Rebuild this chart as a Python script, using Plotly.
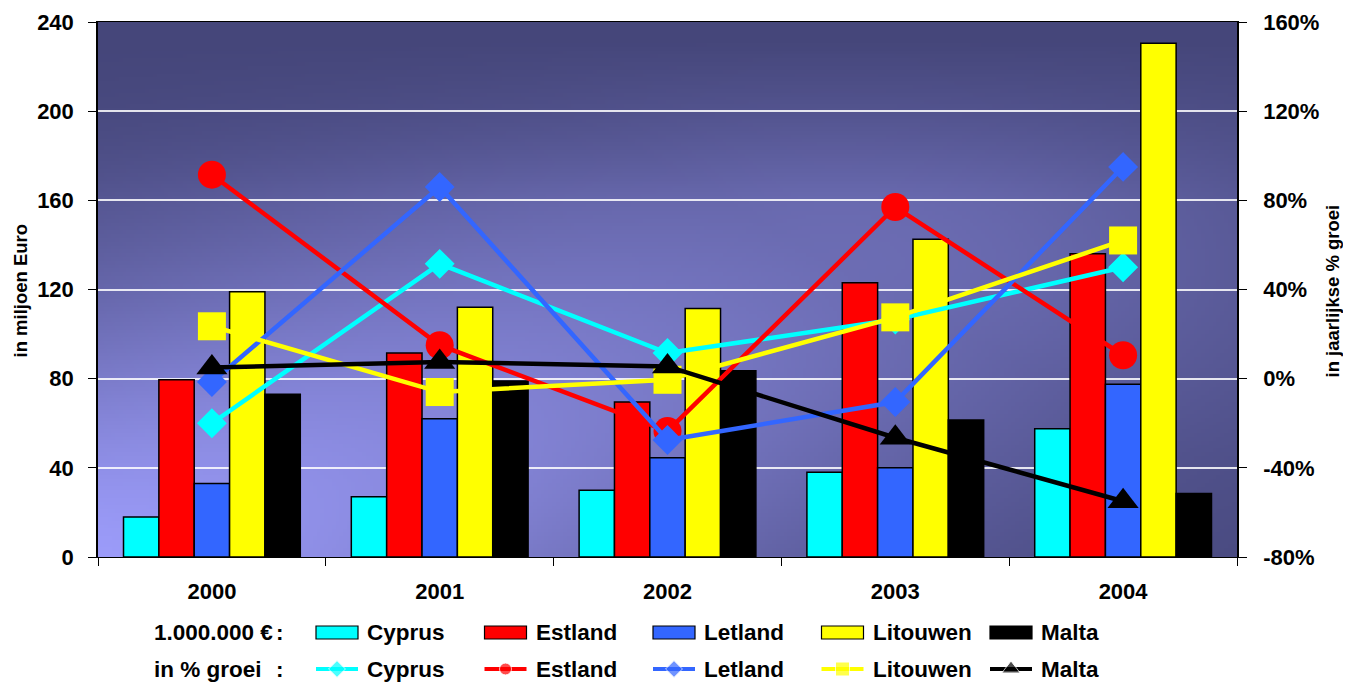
import base64
import struct
import zlib

import numpy as np
import plotly.graph_objects as go

# data
years = ["2000", "2001", "2002", "2003", "2004"]
countries = ["Cyprus", "Estland", "Letland", "Litouwen", "Malta"]
colors = ["#00FFFF", "#FF0000", "#3366FF", "#FFFF00", "#000000"]
symbols = ["diamond", "circle", "diamond", "square", "triangle-up"]

# bars: 1.000.000 EUR (left axis)
cyprus_eur = [18, 27, 30, 38, 57.5]
estland_eur = [79.5, 91.5, 69.5, 123, 136]
letland_eur = [33, 62, 44.5, 40, 77.5]
litouwen_eur = [119, 112, 111.5, 142.5, 230.5]
malta_eur = [73, 79, 83.5, 61.5, 28.5]

# lines: yearly growth in % (right axis)
cyprus_pct = [-20, 51.5, 11.5, 26.5, 50]
estland_pct = [91.5, 15, -23.5, 77, 10.5]
letland_pct = [-1.5, 86, -27.5, -10.5, 95]
litouwen_pct = [23.5, -6, -0.5, 27.5, 62]
malta_pct = [5, 7.5, 5.5, -26.5, -55]

eur_series = [cyprus_eur, estland_eur, letland_eur, litouwen_eur, malta_eur]
pct_series = [cyprus_pct, estland_pct, letland_pct, litouwen_pct, malta_pct]

left_ticks = [0, 40, 80, 120, 160, 200, 240]
right_ticks = [-80, -40, 0, 40, 80, 120, 160]
right_labels = ["-80%", "-40%", "0%", "40%", "80%", "120%", "160%"]

# the page body has an 8px margin, so the figure is shifted by that much
OFF = 8
W, H = 1351, 682
PLOT_L, PLOT_R, PLOT_T, PLOT_B = 98, 1237, 22, 557
ML, MR, MT = PLOT_L - OFF, W + OFF - PLOT_R, PLOT_T - OFF
PAPER_BOTTOM = H + OFF
FONT = "Liberation Sans, Arial, sans-serif"


def gradient_png(w=300, h=140):
    # light lavender bottom-left fading into dark navy, with a light band towards the centre-right
    u, v = np.meshgrid(np.linspace(0, 1, w), np.linspace(0, 1, h))
    ax, ay, bx, by = 0.0, 1.0, 0.65, 0.45
    dx, dy = bx - ax, by - ay
    s = np.clip(((u - ax) * dx + (v - ay) * dy) / (dx * dx + dy * dy), 0, 1)
    d = np.hypot(u - (ax + s * dx), v - (ay + s * dy))
    t = (1 - 0.55 * s) * np.exp(-(d / 0.45) ** 2)
    t *= np.clip((v - 0.03) / 0.3, 0, 1) ** 0.7
    dark = np.array([69, 70, 122], float)
    light = np.array([156, 156, 250], float)
    rgb = (dark + t[..., None] * (light - dark)).clip(0, 255).astype(np.uint8)
    raw = b"".join(b"\x00" + rgb[i].tobytes() for i in range(h))

    def chunk(tag, data):
        return struct.pack(">I", len(data)) + tag + data + struct.pack(">I", zlib.crc32(tag + data) & 0xFFFFFFFF)

    png = (b"\x89PNG\r\n\x1a\n" + chunk(b"IHDR", struct.pack(">IIBBBBB", w, h, 8, 2, 0, 0, 0))
           + chunk(b"IDAT", zlib.compress(raw, 9)) + chunk(b"IEND", b""))
    return "data:image/png;base64," + base64.b64encode(png).decode()


fig = go.Figure()

for name, vals, col in zip(countries, eur_series, colors):
    fig.add_trace(go.Bar(x=years, y=vals, name=name, marker=dict(color=col, line=dict(color="black", width=1.5)),
                         xaxis="x", yaxis="y"))

marker_sizes = [23, 28, 23, 28, 27]
for name, vals, col, sym, ms in zip(countries, pct_series, colors, symbols, marker_sizes):
    fig.add_trace(go.Scatter(x=years, y=vals, name=name, mode="lines+markers",
                             line=dict(color=col, width=4.5),
                             marker=dict(symbol=sym, size=ms, color=col),
                             xaxis="x", yaxis="y2"))

# custom two-row legend (drawn on a hidden axis pair whose units are page pixels)
plot_h = PAPER_BOTTOM - PLOT_T
main_bottom = (PAPER_BOTTOM - PLOT_B) / plot_h
leg_frac = 0.17
leg_top = PAPER_BOTTOM - leg_frac * plot_h
x_start, x_step = 316, 168.5
row1, row2 = 632.5, 669
legend_sizes = [13, 12, 13, 14, 16]
LEG_FONT = 22.5
shapes = []
annotations = []
for i, (name, col, sym, ms) in enumerate(zip(countries, colors, symbols, legend_sizes)):
    x0 = x_start + i * x_step
    shapes.append(dict(type="rect", xref="x3", yref="y3", x0=x0, x1=x0 + 42, y0=row1 - 6.5, y1=row1 + 6.5,
                       fillcolor=col, line=dict(color="black", width=1.2)))
    fig.add_trace(go.Scatter(x=[x0, x0 + 21, x0 + 42], y=[row2, row2, row2], mode="lines+markers",
                             line=dict(color=col, width=4), marker=dict(symbol=sym, size=[0, ms, 0], color=col),
                             xaxis="x3", yaxis="y3", hoverinfo="skip", showlegend=False))
    for yy in (row1, row2):
        annotations.append(dict(x=x0 + 49, y=yy, xref="x3", yref="y3", text=name, showarrow=False,
                                xanchor="left", yanchor="middle", font=dict(size=LEG_FONT)))

for label, yy in (("1.000.000 €", row1), ("in % groei", row2)):
    annotations.append(dict(x=152, y=yy, xref="x3", yref="y3", text=label, showarrow=False,
                            xanchor="left", yanchor="middle", font=dict(size=LEG_FONT)))
    annotations.append(dict(x=280, y=yy, xref="x3", yref="y3", text=":", showarrow=False,
                            xanchor="center", yanchor="middle", font=dict(size=LEG_FONT)))

mid = (PAPER_BOTTOM - 291) / plot_h
annotations.append(dict(x=0, y=mid, xref="paper", yref="paper", xshift=-91, text="in miljoen Euro",
                        textangle=-90, showarrow=False, font=dict(size=18.5)))
annotations.append(dict(x=1, y=mid, xref="paper", yref="paper", xshift=107, text="in jaarlijkse % groei",
                        textangle=-90, showarrow=False, font=dict(size=18.5)))

tick_font = dict(size=22, color="black", family=FONT, weight="bold")

fig.update_layout(
    width=W, height=H,
    margin=dict(l=ML, r=MR, t=MT, b=0, pad=0, autoexpand=False),
    paper_bgcolor="white", plot_bgcolor="rgba(0,0,0,0)",
    font=dict(family=FONT, color="black", weight="bold"),
    showlegend=False,
    barmode="group", bargap=0.224, bargroupgap=0,
    images=[dict(source=gradient_png(), xref="paper", yref="paper", x=0, y=1, sizex=1, sizey=1 - main_bottom,
                 xanchor="left", yanchor="top", sizing="stretch", layer="below")],
    xaxis=dict(domain=[0, 1], anchor="y", type="category", tickson="boundaries", ticks="outside", ticklen=8,
               tickcolor="black", showline=True, mirror=True, linecolor="black", linewidth=1.2,
               tickfont=tick_font, ticklabelstandoff=14, showgrid=False, zeroline=False, automargin=False),
    yaxis=dict(domain=[main_bottom, 1], anchor="x", range=[0, 240], tickvals=left_ticks, ticks="outside",
               ticklen=8, tickcolor="black", showline=True, linecolor="black", linewidth=1.5,
               showgrid=True, gridcolor="rgba(255,255,255,0.85)", gridwidth=1.5, zeroline=False,
               tickfont=tick_font, ticklabelstandoff=10, automargin=False),
    yaxis2=dict(overlaying="y", side="right", anchor="x", range=[-80, 160], tickvals=right_ticks,
                ticktext=right_labels, ticks="outside", ticklen=8, tickcolor="black", showline=True,
                linecolor="black", linewidth=1.5, showgrid=False, zeroline=False,
                tickfont=tick_font, ticklabelstandoff=12, automargin=False),
    xaxis3=dict(domain=[0, 1], anchor="y3", range=[PLOT_L, PLOT_R], visible=False, fixedrange=True,
                automargin=False),
    yaxis3=dict(domain=[0, leg_frac], anchor="x3", range=[PAPER_BOTTOM, leg_top], visible=False,
                fixedrange=True, automargin=False),
    shapes=shapes,
    annotations=annotations,
)

fig.write_html("out.html")
